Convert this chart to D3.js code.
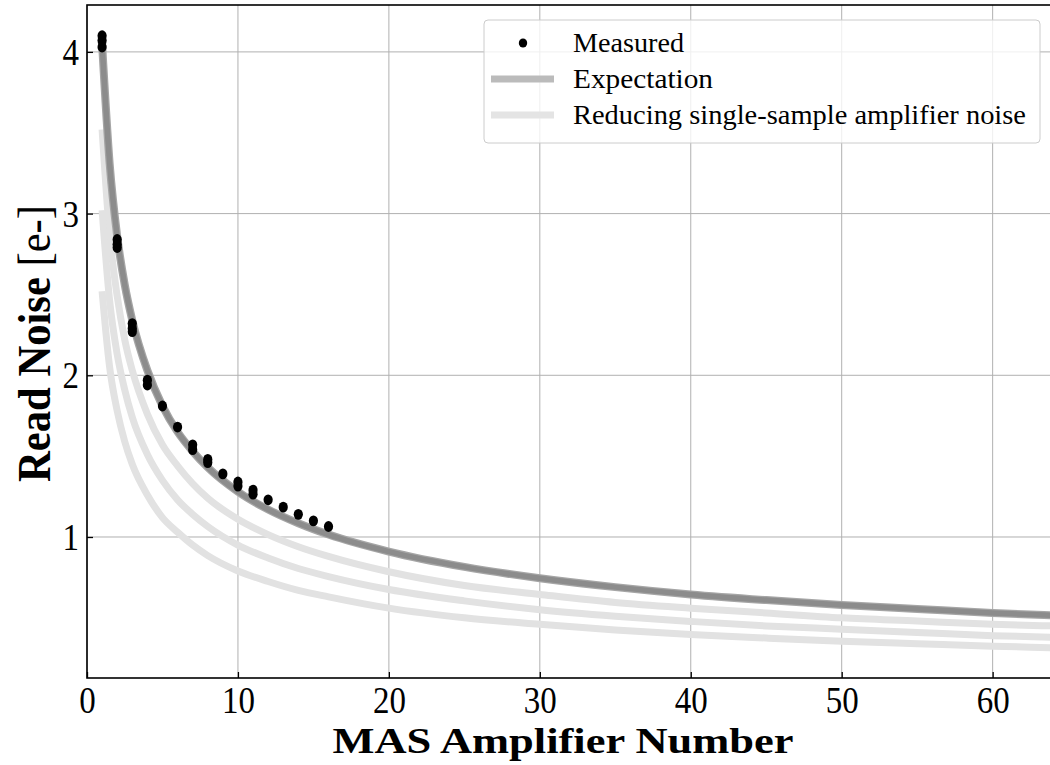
<!DOCTYPE html>
<html>
<head>
<meta charset="utf-8">
<script src="https://cdn.jsdelivr.net/npm/d3@7"></script>
<style>
  html, body { margin: 0; padding: 0; background: #fff; }
  svg { display: block; }
  text { font-family: "Liberation Serif", "DejaVu Serif", serif; fill: #000; }
</style>
</head>
<body>
<svg id="chart" width="1050" height="765"></svg>
<script>
// ---- data ----
const measuredX = [1,1,1, 2,2,2, 3,3,3, 4,4, 5, 6, 7,7, 8,8, 9, 10,10, 11,11, 12, 13, 14, 15, 16];
const measuredY = [4.10,4.07,4.03, 2.84,2.81,2.79, 2.32,2.29,2.27, 1.97,1.94, 1.81, 1.68, 1.57,1.54, 1.48,1.46, 1.39, 1.34,1.315, 1.29,1.265, 1.23, 1.185, 1.14, 1.10, 1.065];

const curveX = [1, 1.5, 2, 2.5, 3, 4, 5, 6, 7, 8, 10, 12, 14, 16, 20, 25, 30, 35, 40, 45, 50, 55, 60, 64];
const expectationY = [4.05, 3.31, 2.86, 2.56, 2.34, 2.03, 1.81, 1.65, 1.53, 1.43, 1.28, 1.17, 1.085, 1.015, 0.91, 0.815, 0.745, 0.69, 0.645, 0.61, 0.58, 0.555, 0.53, 0.515];
const reducedY1 = [3.52, 2.87, 2.49, 2.22, 2.03, 1.76, 1.57, 1.44, 1.33, 1.24, 1.11, 1.015, 0.94, 0.88, 0.785, 0.70, 0.645, 0.595, 0.56, 0.53, 0.50, 0.48, 0.46, 0.45];
const reducedY2 = [3.02, 2.46, 2.13, 1.91, 1.74, 1.51, 1.35, 1.23, 1.14, 1.065, 0.95, 0.87, 0.805, 0.755, 0.675, 0.605, 0.55, 0.51, 0.478, 0.45, 0.43, 0.41, 0.39, 0.38];
const reducedY3 = [2.52, 2.05, 1.78, 1.59, 1.45, 1.26, 1.12, 1.03, 0.95, 0.885, 0.79, 0.725, 0.67, 0.63, 0.56, 0.50, 0.46, 0.425, 0.397, 0.375, 0.355, 0.34, 0.325, 0.315];

const xTicks = [0, 10, 20, 30, 40, 50, 60];
const yTicks = [1, 2, 3, 4];
const legendLabels = ["Measured", "Expectation", "Reducing single-sample amplifier noise"];

// ---- layout ----
const svg = d3.select("#chart");
const mLeft = 87, mRight = 1050, mTop = 5, mBottom = 678;
const x = d3.scaleLinear().domain([0, 63.8]).range([mLeft, mRight]);
const y = d3.scaleLinear().domain([0.128, 4.29]).range([mBottom, mTop]);

svg.append("defs").append("clipPath").attr("id", "clip")
  .append("rect").attr("x", mLeft).attr("y", mTop).attr("width", mRight - mLeft).attr("height", mBottom - mTop);

// grid
const grid = svg.append("g");
grid.selectAll(".gx").data(xTicks).enter().append("line")
  .attr("x1", d => x(d)).attr("x2", d => x(d)).attr("y1", mTop).attr("y2", mBottom)
  .attr("stroke", "#b0b0b0").attr("stroke-width", 1);
grid.selectAll(".gy").data(yTicks).enter().append("line")
  .attr("x1", mLeft).attr("x2", mRight).attr("y1", d => y(d)).attr("y2", d => y(d))
  .attr("stroke", "#b0b0b0").attr("stroke-width", 1);

// curves
const plot = svg.append("g").attr("clip-path", "url(#clip)");
const line = d3.line().x(d => x(d[0])).y(d => y(d[1])).curve(d3.curveMonotoneX);
[reducedY1, reducedY2, reducedY3].forEach(arr => {
  plot.append("path").datum(curveX.map((v, i) => [v, arr[i]]))
    .attr("d", line).attr("fill", "none").attr("stroke", "#e2e2e2").attr("stroke-width", 7);
});
const expData = curveX.map((v, i) => [v, expectationY[i]]);
plot.append("path").datum(expData)
  .attr("d", line).attr("fill", "none").attr("stroke", "#a6a6a6").attr("stroke-width", 8);
plot.append("path").datum(expData)
  .attr("d", line).attr("fill", "none").attr("stroke", "#8c8c8c").attr("stroke-width", 5.5);

// measured points
plot.selectAll(".pt").data(measuredX.map((v, i) => [v, measuredY[i]])).enter().append("ellipse")
  .attr("cx", d => x(d[0])).attr("cy", d => y(d[1])).attr("rx", 4.6).attr("ry", 5.4).attr("fill", "#000");

// axes
const xAxis = d3.axisBottom(x).tickValues(xTicks).tickSize(-6).tickFormat(d3.format("d"));
const gx = svg.append("g").attr("transform", `translate(0,${mBottom})`).call(xAxis);
gx.select(".domain").remove();
gx.selectAll(".tick line").attr("stroke", "#000").attr("stroke-width", 1.3);
gx.selectAll("text").attr("font-size", 38).attr("font-family", "Liberation Serif, serif")
  .attr("y", 35).attr("dy", 0)
  .attr("textLength", d => 16.5 * String(d).length).attr("lengthAdjust", "spacingAndGlyphs");

const yAxis = d3.axisLeft(y).tickValues(yTicks).tickSize(-6).tickPadding(8).tickFormat(d3.format("d"));
const gy = svg.append("g").attr("transform", `translate(${mLeft},0)`).call(yAxis);
gy.select(".domain").remove();
gy.selectAll(".tick line").attr("stroke", "#000").attr("stroke-width", 1.3);
gy.selectAll("text").attr("font-size", 38).attr("font-family", "Liberation Serif, serif")
  .attr("dy", "0.33em")
  .attr("textLength", d => 16.5 * String(d).length).attr("lengthAdjust", "spacingAndGlyphs");

// spines
svg.append("rect").attr("x", mLeft).attr("y", mTop).attr("width", mRight - mLeft + 2).attr("height", mBottom - mTop)
  .attr("fill", "none").attr("stroke", "#000").attr("stroke-width", 1.6);

// axis labels
svg.append("text").attr("x", 563).attr("y", 753)
  .attr("text-anchor", "middle").attr("font-size", 35).attr("font-weight", "bold")
  .attr("textLength", 461).attr("lengthAdjust", "spacingAndGlyphs")
  .text("MAS Amplifier Number");
const yl = svg.append("text").attr("transform", `translate(50,343.5) rotate(-90)`)
  .attr("text-anchor", "middle").attr("font-size", 46)
  .attr("textLength", 277).attr("lengthAdjust", "spacingAndGlyphs");
yl.append("tspan").attr("font-weight", "bold").text("Read Noise ");
yl.append("tspan").attr("font-weight", "normal").text("[e-]");

// legend
const lg = svg.append("g");
lg.append("rect").attr("x", 484).attr("y", 20).attr("width", 556).attr("height", 123)
  .attr("rx", 4).attr("fill", "#fff").attr("fill-opacity", 0.8)
  .attr("stroke", "#cccccc").attr("stroke-width", 1);
const rows = [43, 79, 115];
const textLens = [111, 140, 453];
lg.append("ellipse").attr("cx", 523).attr("cy", rows[0]).attr("rx", 4.2).attr("ry", 4.6).attr("fill", "#000");
lg.append("line").attr("x1", 491).attr("x2", 554).attr("y1", rows[1]).attr("y2", rows[1])
  .attr("stroke", "#bbbbbb").attr("stroke-width", 7);
lg.append("line").attr("x1", 491).attr("x2", 554).attr("y1", rows[2]).attr("y2", rows[2])
  .attr("stroke", "#e4e4e4").attr("stroke-width", 7);
legendLabels.forEach((t, i) => {
  lg.append("text").attr("x", 573).attr("y", rows[i] + 9)
    .attr("font-size", 28)
    .attr("textLength", textLens[i]).attr("lengthAdjust", "spacingAndGlyphs")
    .text(t);
});
</script>
</body>
</html>
